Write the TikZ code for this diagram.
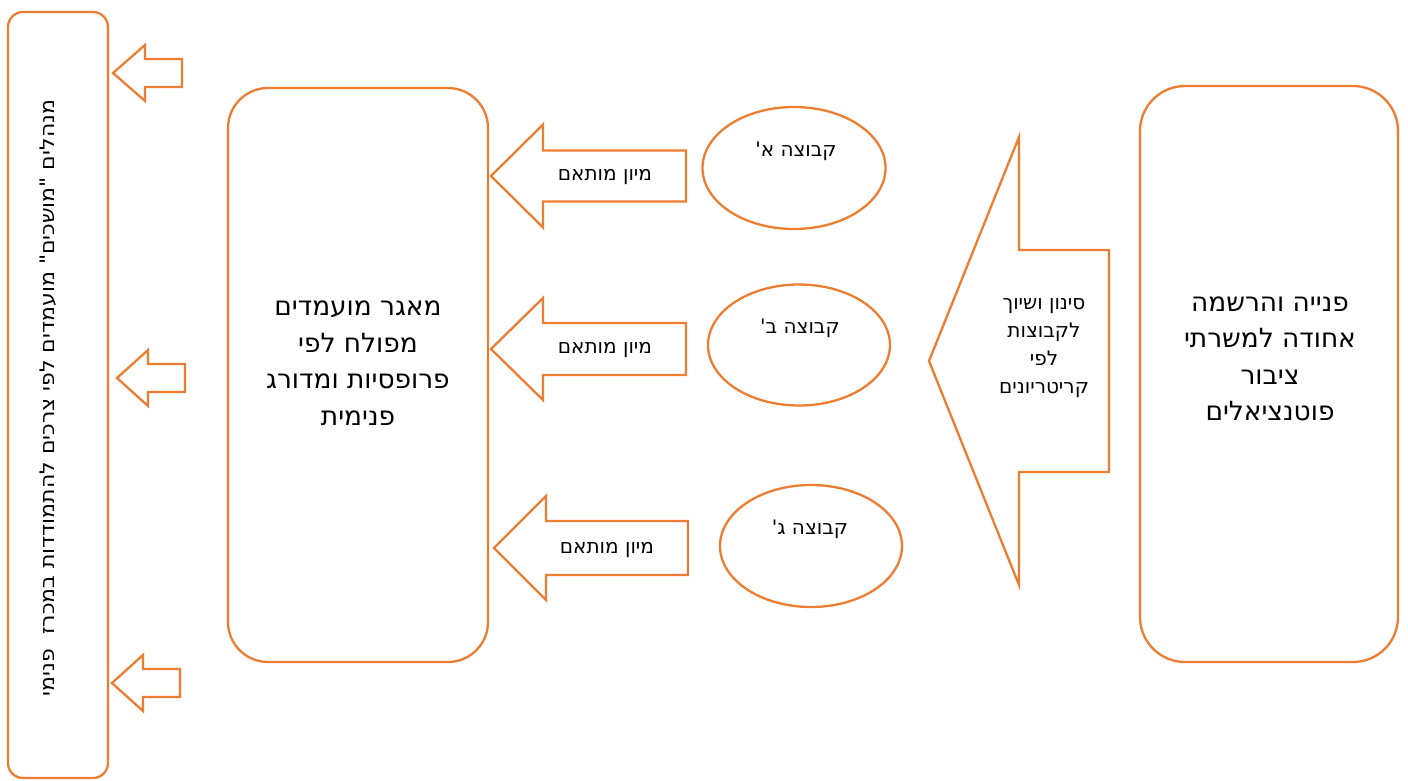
\documentclass[tikz,border=0pt]{standalone}
\usepackage{fontspec}
\setmainfont{DejaVu Sans}
\newfontfamily\hebfont[Script=Hebrew,Ligatures=TeXOff]{DejaVu Sans}
\TeXXeTstate=1
\usetikzlibrary{shapes.geometric}
\definecolor{orng}{HTML}{ED7D31}
\newcommand{\heb}[1]{\beginR #1\endR}
\newcommand{\blockarrow}[7]{% name, tipx, y, backx, endx, headhalf, shafthalf
  \coordinate (#1) at (#2,#3);
  \draw[arrshape] (#1) -- ({#4},{#3-#6}) -- ({#4},{#3-#7}) -- ({#5},{#3-#7})
    -- ({#5},{#3+#7}) -- ({#4},{#3+#7}) -- ({#4},{#3+#6}) -- cycle;}
\begin{document}
\begin{tikzpicture}[x=1pt,y=-1pt,
  box/.style={draw=orng, line width=2.3pt, fill=white, rectangle, inner sep=0pt},
  oval/.style={draw=orng, line width=2.3pt, ellipse, inner sep=0pt},
  arrshape/.style={draw=orng, line width=2.3pt, line join=miter, fill=white},
  bigtxt/.style={font=\hebfont\fontsize{26.4}{36.5}\selectfont, align=center, text=black, inner sep=0pt},
  smalltxt/.style={font=\hebfont\fontsize{20}{27.8}\selectfont, align=center, text=black, inner sep=0pt}]
\useasboundingbox (0,0) rectangle (1408,781);
% left box
\node[box, minimum width=100pt, minimum height=766pt, rounded corners=15pt] (lbox) at (58,395) {};
\node[smalltxt, rotate=90] (ltxt) at (48,398)
  {\scalebox{1.1}[1]{\heb{מנהלים "מושכים" מועמדים לפי צרכים להתמודדות במכרז\ \ פנימי}}};
% middle box
\node[box, minimum width=260pt, minimum height=574pt, rounded corners=40pt] (mbox) at (358,375) {};
\node[bigtxt] (mtxt) at (358,363) {\heb{מאגר מועמדים}\\\heb{מפולח לפי}\\\heb{פרופסיות ומדורג}\\\heb{פנימית}};
% right box
\node[box, minimum width=258pt, minimum height=576pt, rounded corners=45pt] (rbox) at (1269,374) {};
\node[bigtxt] (rtxt) at (1270,359) {\heb{פנייה והרשמה}\\\heb{אחודה למשרתי}\\\heb{ציבור}\\\heb{פוטנציאלים}};
% small arrows to left box
\blockarrow{sa1}{113}{73}{145}{182}{28}{14}
\blockarrow{sa2}{117}{378}{148}{185}{28}{14}
\blockarrow{sa3}{112}{683}{143}{180}{28}{14}
% medium arrows
\blockarrow{ma1}{491}{176}{543}{686}{51.5}{25.5}
\node[smalltxt] (mt1) at (605,177) {\heb{מיון מותאם}};
\blockarrow{ma2}{491}{349}{543}{686}{51}{26}
\node[smalltxt] (mt2) at (605,350) {\heb{מיון מותאם}};
\blockarrow{ma3}{494}{548}{546}{688}{52}{27}
\node[smalltxt] (mt3) at (607,550) {\heb{מיון מותאם}};
% ellipses
\node[oval, minimum width=183pt, minimum height=122pt] (e1) at (794,168) {};
\node[smalltxt] (e1t) at (796,151) {\heb{קבוצה א'}};
\node[oval, minimum width=182pt, minimum height=121pt] (e2) at (799,345) {};
\node[smalltxt] (e2t) at (800,328) {\heb{קבוצה ב'}};
\node[oval, minimum width=182pt, minimum height=122pt] (e3) at (811,546) {};
\node[smalltxt] (e3t) at (810,529) {\heb{קבוצה ג'}};
% big arrow
\blockarrow{ba}{929}{361}{1019}{1109}{224}{111}
\node[smalltxt] (bt) at (1044,348) {\heb{סינון ושיוך}\\\heb{לקבוצות}\\\heb{לפי}\\\heb{קריטריונים}};
\end{tikzpicture}
\end{document}
